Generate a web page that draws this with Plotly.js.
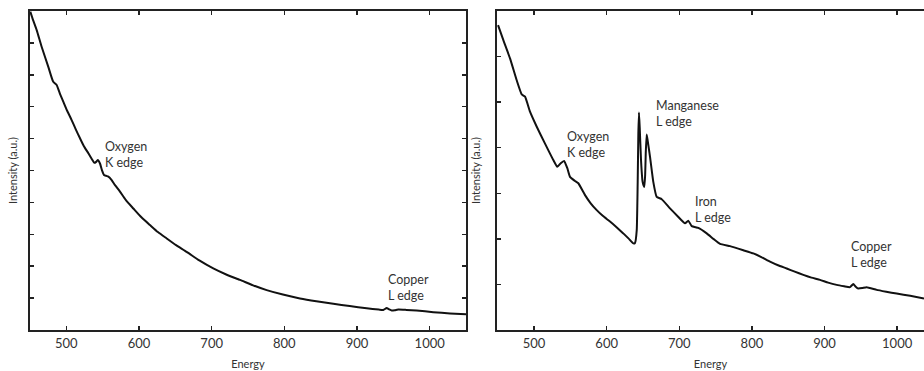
<!DOCTYPE html>
<html>
<head>
<meta charset="utf-8">
<script src="https://cdn.plot.ly/plotly-3.0.1.min.js"></script>
<style>html,body{margin:0;padding:0;background:#fff;}#chart{width:924px;height:371px;}</style>
</head>
<body>
<div id="chart"></div>
<script>
// Left panel: spectrum without manganese
const energyLeft = [450.4,454,459.2,466,475.2,482,486.7,491,495.8,501,507.3,513,518.8,524,530.3,535,538.5,541,543.2,546.3,549,551.8,555,557.8,562.4,567,573.8,582,592.2,603,615.1,626,638.1,651,665.6,683,702.2,720,739,757,775.7,798,821.5,844,867.4,890,913.3,930,936.2,940.8,944,947.7,952,956.8,968,982,1005,1028,1050];
const intensityLeft = [9.98,9.73,9.40,8.88,8.25,7.78,7.68,7.42,7.16,6.88,6.58,6.29,6.01,5.77,5.54,5.36,5.24,5.27,5.33,5.22,5.01,4.86,4.83,4.81,4.70,4.54,4.34,4.07,3.81,3.54,3.29,3.07,2.87,2.66,2.45,2.18,1.93,1.74,1.57,1.40,1.25,1.11,0.99,0.90,0.82,0.75,0.68,0.64,0.63,0.69,0.65,0.61,0.62,0.64,0.63,0.61,0.56,0.52,0.49];

// Right panel: spectrum with manganese
const energyRight = [450.4,457.7,466.9,476.1,483,487.6,494.4,503.7,515.1,526.5,532,536.7,541.3,545.8,549.5,556.4,561,570.2,578,586.3,595,604.6,614,622.9,630,636.7,639,641.4,642.7,643.6,644.5,645.5,647.3,649.5,651.8,653,653.8,655.1,656.5,659.7,664.2,668.9,675.8,687.2,698.7,707.9,712.4,717.1,726.2,737.8,747,756.1,769.9,788.2,802,813,824.9,836,847.9,859,870.8,882,893.8,905,916.8,927,935.1,939.6,943,946.5,952,958,971.9,985,999.4,1018,1037];
const intensityRight = [6.69,6.36,5.96,5.48,5.17,5.12,4.79,4.46,4.09,3.73,3.58,3.66,3.71,3.55,3.36,3.27,3.22,2.96,2.78,2.63,2.50,2.38,2.25,2.12,2.01,1.90,1.91,2.19,3.22,4.30,4.77,4.45,3.73,3.25,3.14,3.40,3.87,4.29,4.15,3.80,3.25,2.92,2.87,2.67,2.48,2.34,2.40,2.28,2.24,2.12,2.00,1.89,1.84,1.75,1.68,1.60,1.50,1.42,1.35,1.28,1.21,1.15,1.10,1.04,0.99,0.96,0.94,1.01,0.95,0.91,0.92,0.94,0.88,0.84,0.80,0.75,0.69];

// Tick labels
const energyTicks = [500,600,700,800,900,1000];
const leftYTicks = [1,2,3,4,5,6,7,8,9];
const rightYTicks = [1,2,3,4,5,6];

// Annotations
const labelsLeft = [
  {text: "Oxygen<br>K edge", x: 551, y: 5.5},
  {text: "Copper<br>L edge", x: 940, y: 1.32}
];
const labelsRight = [
  {text: "Oxygen<br>K edge", x: 542.6, y: 4.08},
  {text: "Manganese<br>L edge", x: 665.6, y: 4.75},
  {text: "Iron<br>L edge", x: 718.5, y: 2.64},
  {text: "Copper<br>L edge", x: 933.7, y: 1.66}
];

const FONT = "Lato, 'Open Sans', sans-serif";
const AX = "#222";

const traces = [
  {x: energyLeft, y: intensityLeft, xaxis: "x", yaxis: "y", type: "scatter", mode: "lines",
   line: {color: "#111", width: 2, shape: "spline", smoothing: 0.5}, hoverinfo: "skip"},
  {x: energyRight, y: intensityRight, xaxis: "x2", yaxis: "y2", type: "scatter", mode: "lines",
   line: {color: "#111", width: 2, shape: "spline", smoothing: 0.4}, hoverinfo: "skip"}
];

function xax(domain, range) {
  return {domain: domain, range: range, showgrid: false, zeroline: false,
    showline: true, linecolor: AX, linewidth: 2, mirror: "ticks",
    ticks: "inside", ticklen: 4, tickwidth: 1.5, tickcolor: AX,
    tickvals: energyTicks, ticktext: energyTicks.map(String),
    tickfont: {family: FONT, size: 13, color: "#333"},
    title: {text: "Energy", font: {family: FONT, size: 11, color: "#333"}, standoff: 11}};
}
function yax(anchor, range, tv, mirror, standoff) {
  return {anchor: anchor, range: range, showgrid: false, zeroline: false,
    showline: true, linecolor: AX, linewidth: 2, mirror: mirror,
    ticks: "inside", ticklen: 4, tickwidth: 1.5, tickcolor: AX,
    tickvals: tv, showticklabels: false,
    title: {text: "Intensity (a.u.)", font: {family: FONT, size: 11, color: "#333"}, standoff: standoff}};
}

const annots = [];
labelsLeft.forEach(a => annots.push({xref: "x", yref: "y", x: a.x, y: a.y, text: a.text, showarrow: false,
  xanchor: "left", yanchor: "middle", align: "left", font: {family: FONT, size: 12.5, color: "#333"}}));
labelsRight.forEach(a => annots.push({xref: "x2", yref: "y2", x: a.x, y: a.y, text: a.text, showarrow: false,
  xanchor: "left", yanchor: "middle", align: "left", font: {family: FONT, size: 12.5, color: "#333"}}));

const xa1 = xax([0, 0.4877], [450, 1050]); xa1.anchor = "y";
const xa2 = xax([0.5224, 1], [449, 1037]); xa2.anchor = "y2";

const layout = {
  width: 924, height: 371,
  margin: {l: 30, r: 0, t: 11, b: 41, pad: 0},
  paper_bgcolor: "#fff", plot_bgcolor: "#fff",
  showlegend: false,
  font: {family: FONT},
  xaxis: xa1,
  yaxis: yax("x", [0, 10], leftYTicks, "ticks", 8),
  xaxis2: xa2,
  yaxis2: yax("x2", [0, 7], rightYTicks, false, 12),
  annotations: annots
};

Plotly.newPlot("chart", traces, layout, {displayModeBar: false, staticPlot: true});
</script>
</body>
</html>
